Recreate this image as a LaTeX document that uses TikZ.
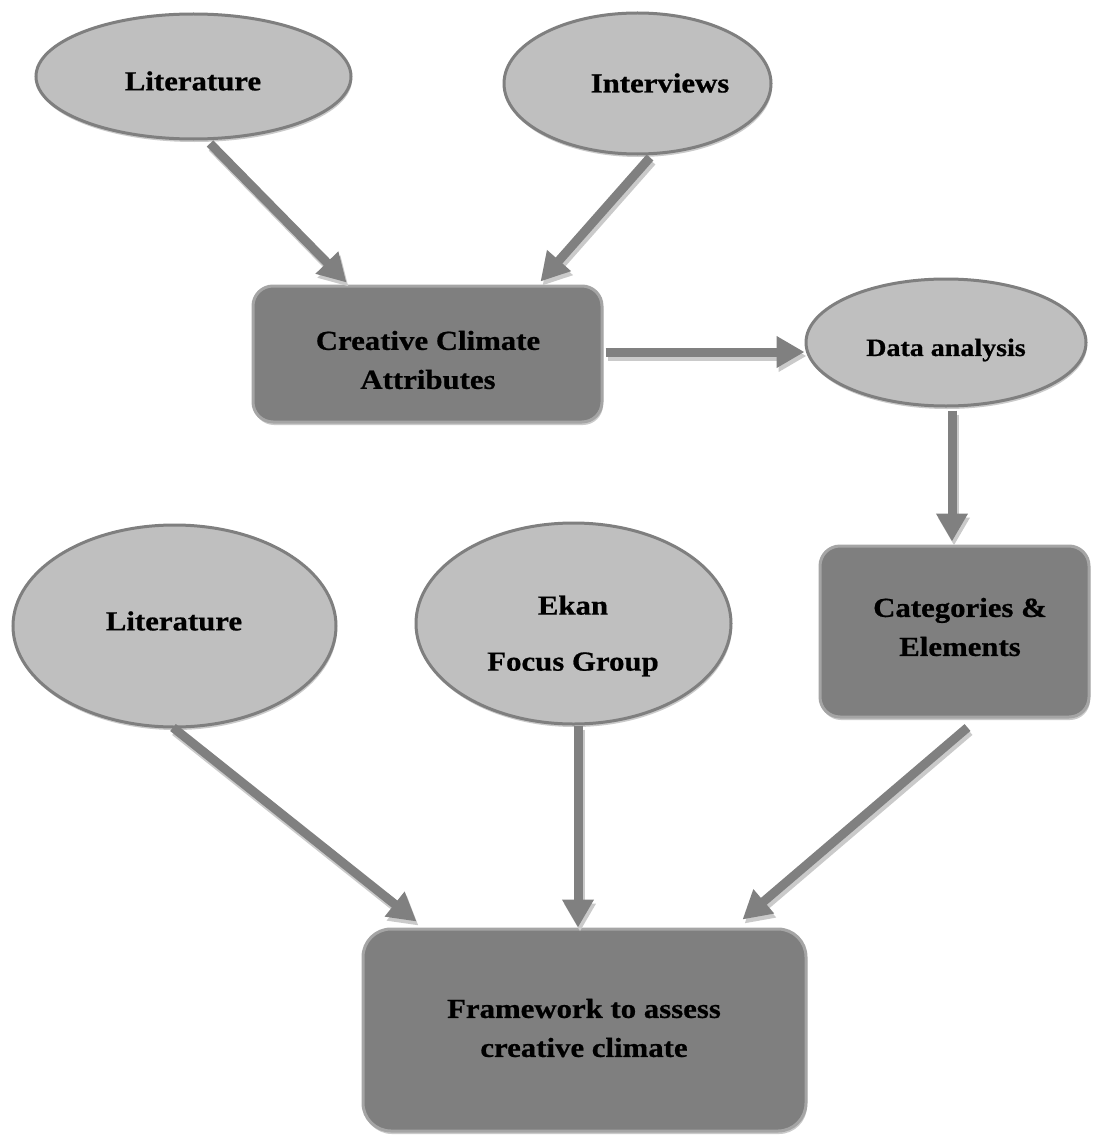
\documentclass[tikz,border=0pt]{standalone}
\usepackage{fontspec}
\setmainfont{Liberation Serif}[FakeStretch=1.12,BoldFeatures={FakeBold=0.7}]
\usetikzlibrary{shapes.geometric,arrows.meta,calc,shadows}
\definecolor{ellfill}{HTML}{BFBFBF}
\definecolor{ellline}{HTML}{7F7F7F}
\definecolor{boxfill}{HTML}{7F7F7F}
\definecolor{boxline}{HTML}{A5A5A5}
\definecolor{arrowgray}{HTML}{808080}
\definecolor{shadegray}{HTML}{CACACA}
\newcommand\flowpair[2]{\draw[flowshade] #1 -- #2; \draw[flow] #1 -- #2;}
\begin{document}
\begin{tikzpicture}[x=1pt,y=-1pt,
  castshadow/.style={drop shadow={shadow xshift=1pt,shadow yshift=-3pt,fill=shadegray,opacity=1}},
  ellnode/.style={ellipse,draw=ellline,line width=3pt,fill=ellfill,inner sep=0pt,castshadow},
  boxnode/.style={rectangle,rounded corners=20pt,draw=boxline,line width=3pt,fill=boxfill,inner sep=0pt,castshadow},
  lbl/.style={font=\fontsize{27.5}{39}\selectfont\bfseries,align=center,inner sep=0pt,text=black},
  flow/.style={draw=arrowgray,line width=9pt,-{Triangle[length=28pt,width=30pt]}},
  flowshade/.style={draw=shadegray,line width=9pt,-{Triangle[length=28pt,width=30pt]},transform canvas={xshift=2pt,yshift=-4pt}}]
\fill[white] (0,0) rectangle (1092,1137);
\useasboundingbox (0,0) rectangle (1092,1137);

% shapes
\node[ellnode,minimum width=315pt,minimum height=125pt] (lit1) at (193.5,76.5) {};
\node[ellnode,minimum width=267pt,minimum height=141pt] (intv) at (637.5,83.5) {};
\node[boxnode,minimum width=349pt,minimum height=136pt] (cca) at (427.5,354) {};
\node[ellnode,minimum width=280pt,minimum height=127pt] (data) at (946,342.5) {};
\node[boxnode,minimum width=269pt,minimum height=171pt] (cat) at (954.5,631.5) {};
\node[ellnode,minimum width=323pt,minimum height=202pt] (lit2) at (174.5,626) {};
\node[ellnode,minimum width=315pt,minimum height=201pt] (ekan) at (573.5,623.5) {};
\node[boxnode,rounded corners=28pt,minimum width=443pt,minimum height=202pt] (frame) at (584.5,1030) {};

% connectors
\flowpair{($(lit1.south)+(16.5,3)$)}{($(cca.north west)+(95,-2)$)}
\flowpair{($(intv.south)+(12.5,2)$)}{($(cca.north east)+(-63,-3)$)}
\flowpair{($(cca.east)+(2,-2)$)}{($(data.west)+(0,9.5)$)}
\flowpair{($(data.south)+(6,3)$)}{($(cat.north)+(-2.5,-3)$)}
\flowpair{($(lit2.south)+(-1.5,-1)$)}{($(frame.north west)+(55,-6)$)}
\flowpair{($(ekan.south)+(4.5,0)$)}{($(frame.north)+(-6.5,0)$)}
\flowpair{($(cat.south)+(13,9)$)}{($(frame.north east)+(-65,-8)$)}

% labels
\node[lbl] (lit1t) at (193,81) {Literature};
\node[lbl] (intvt) at (660,83) {Interviews};
\node[lbl] (ccat) at (428,360) {Creative Climate\\Attributes};
\node[lbl,font=\fontsize{25}{36}\selectfont\bfseries] (datat) at (946,350) {Data analysis};
\node[lbl] (catt) at (960,627) {Categories \&\\Elements};
\node[lbl] (lit2t) at (174,621) {Literature};
\node[lbl] (ekant) at (573,636) {Ekan\\[17pt]Focus Group};
\node[lbl] (framet) at (584,1028) {Framework to assess\\creative climate};
\end{tikzpicture}
\end{document}
